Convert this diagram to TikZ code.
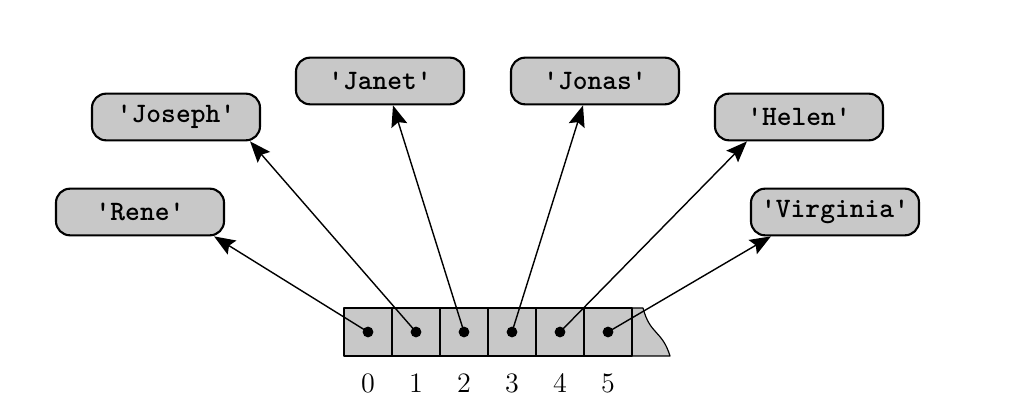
\documentclass[tikz,border=0pt]{standalone}
\usetikzlibrary{arrows.meta}
\definecolor{xam}{RGB}{200,200,200}
\begin{document}
\begin{tikzpicture}[x=0.015cm, y=-0.015cm, line join=round, line cap=round, >={Stealth[length=9pt,width=7pt,inset=1.5pt]},
    chuoi/.style={draw, fill=xam, rounded corners=6pt, line width=0.9pt, minimum width=2.52cm, minimum height=0.7cm, inner sep=0pt, font=\ttfamily\bfseries\large}]
    \useasboundingbox (0,0) rectangle (1024,412);
    \def\q{\textquotesingle} % dấu nháy thẳng
    \def\w{48} % độ rộng một ô
    % các chuỗi
    \node[chuoi] (rene) at (140,212) {\q Rene\q};
    \node[chuoi] (joseph) at (176,117) {\q Joseph\q};
    \node[chuoi] (janet) at (380,81) {\q Janet\q};
    \node[chuoi] (jonas) at (595,81) {\q Jonas\q};
    \node[chuoi] (helen) at (799,117) {\q Helen\q};
    \node[chuoi] (virginia) at (835,212) {\q Virginia\q};
    % phần đuôi của danh sách
    \fill[xam] (632,308) -- (643,308) .. controls (650,335) and (662,330) .. (670,356) -- (632,356) -- cycle;
    \draw[line width=0.5pt] (632,308) -- (643,308) .. controls (650,335) and (662,330) .. (670,356) -- (632,356);
    % các ô và chỉ số
    \foreach \i in {0,...,5} {
        \draw[fill=xam, line width=0.9pt] (344+\w*\i,308) rectangle +(\w,48);
        \coordinate (o\i) at (368+\w*\i,332);
        \fill (o\i) circle (2.3pt);
        \node[font=\large] (s\i) at (368+\w*\i,383) {\i};
    }
    \draw[->, line width=0.6pt] (o0) -- ([shift={(-11,0)}]rene.south east);
    \draw[->, line width=0.6pt] (o1) -- ([shift={(-11,0)}]joseph.south east);
    \draw[->, line width=0.6pt] (o2) -- ([shift={(13,0)}]janet.south);
    \draw[->, line width=0.6pt] (o3) -- ([shift={(-12,0)}]jonas.south);
    \draw[->, line width=0.6pt] (o4) -- ([shift={(33,0)}]helen.south west);
    \draw[->, line width=0.6pt] (o5) -- ([shift={(21,0)}]virginia.south west);
\end{tikzpicture}
\end{document}
